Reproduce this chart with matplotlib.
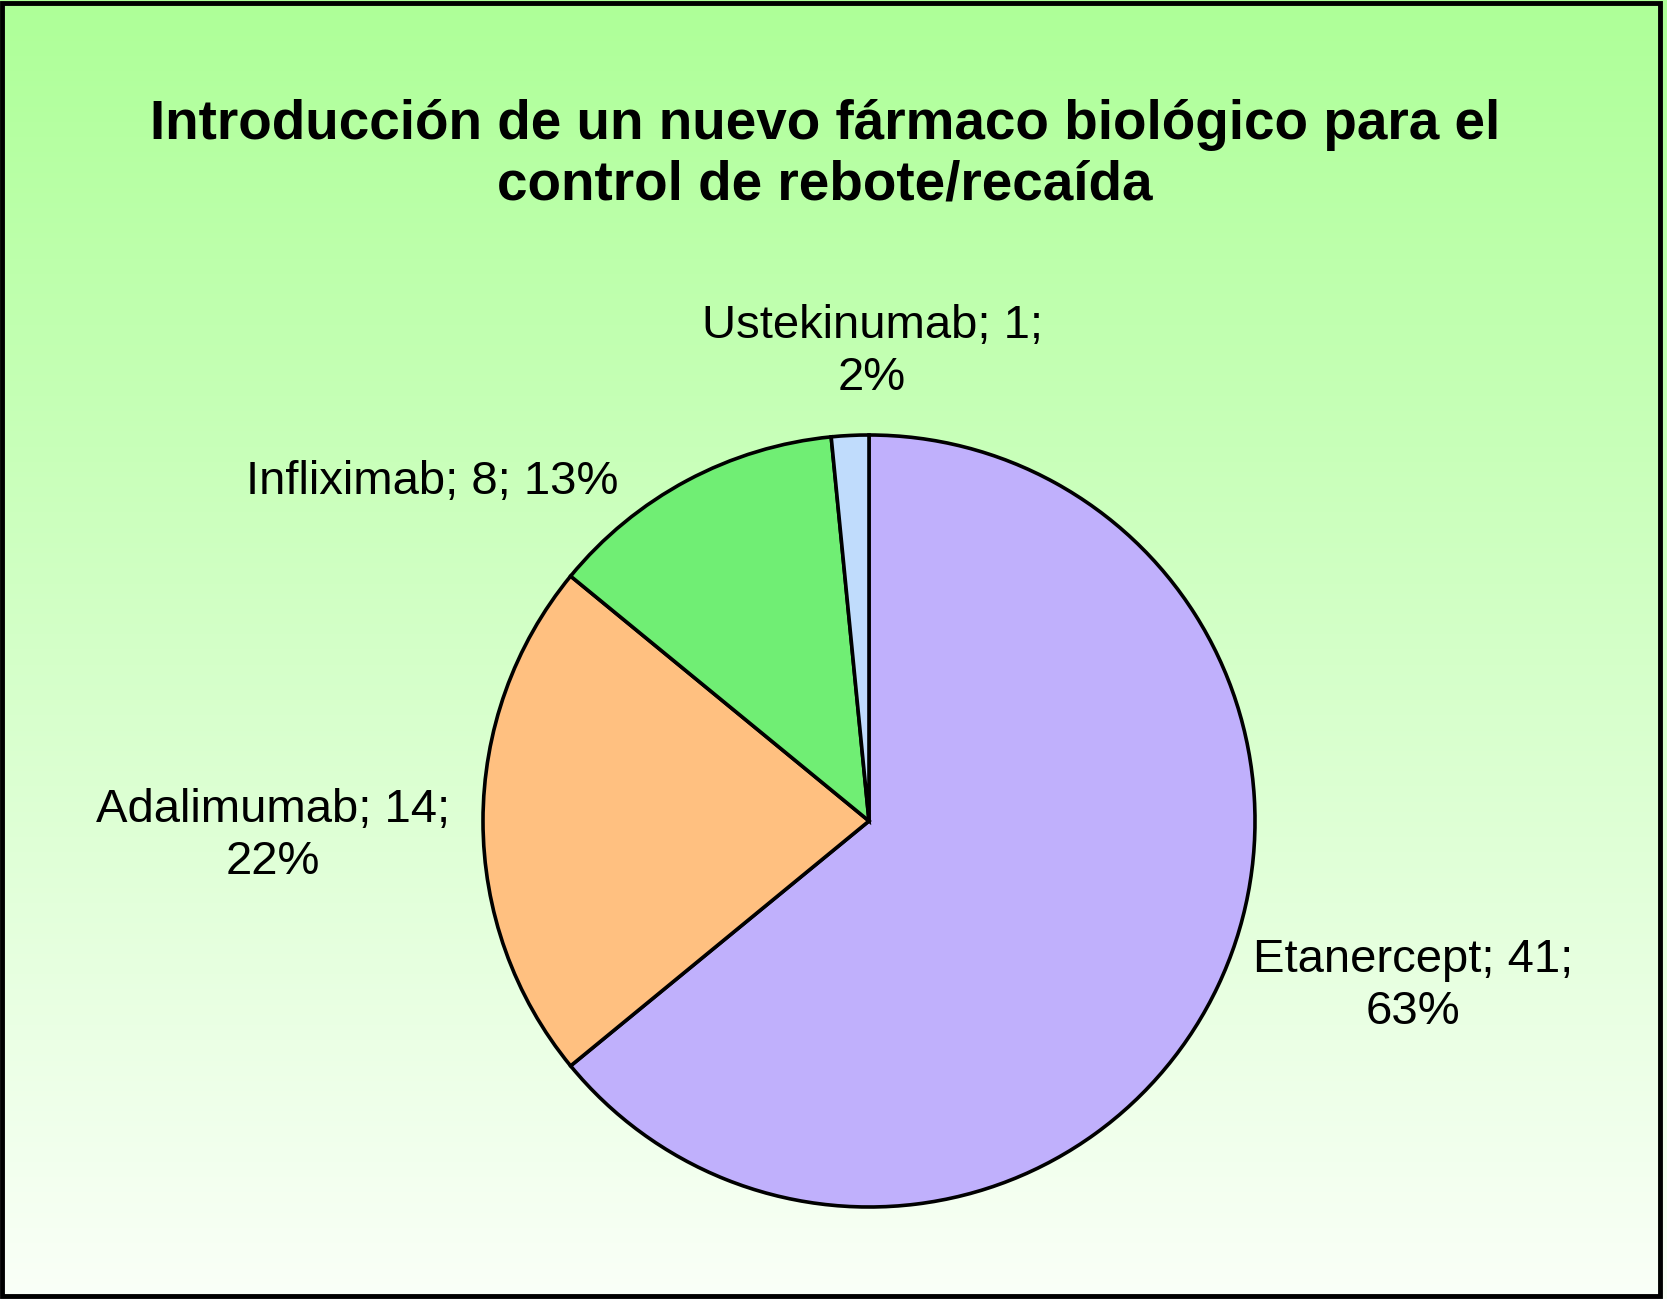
import matplotlib
matplotlib.use('Agg')
import matplotlib.pyplot as plt
import numpy as np
from matplotlib.patches import Rectangle

plt.rcParams['font.family'] = ['Liberation Sans', 'DejaVu Sans']

names = ['Etanercept', 'Adalimumab', 'Infliximab', 'Ustekinumab']
counts = [41, 14, 8, 1]
pct_labels = ['63%', '22%', '13%', '2%']
colors = ['#C0B0FC', '#FFC080', '#70EE74', '#C0DCFC']

title = 'Introducción de un nuevo fármaco biológico para el\ncontrol de rebote/recaída'

# label text, split where the picture wraps
label_texts = [
    names[0] + '; ' + str(counts[0]) + ';\n' + pct_labels[0],
    names[1] + '; ' + str(counts[1]) + ';\n' + pct_labels[1],
    names[2] + '; ' + str(counts[2]) + '; ' + pct_labels[2],
    names[3] + '; ' + str(counts[3]) + ';\n' + pct_labels[3],
]
# label centres in pixels (x from left, y from top)
label_px = [(1413, 986), (273, 836), (432, 482), (872, 352)]

W, H = 1667, 1299
fig = plt.figure(figsize=(W / 100, H / 100), dpi=100)

# background gradient
bg = fig.add_axes([0, 0, 1, 1])
top = np.array([174, 255, 152]) / 255.
bot = np.array([250, 255, 248]) / 255.
t = np.linspace(0, 1, 256)[:, None]
grad = top[None, :] * (1 - t) + bot[None, :] * t
bg.imshow(grad[:, None, :], aspect='auto', extent=[0, 1, 0, 1])
bg.set_xlim(0, 1)
bg.set_ylim(0, 1)
bg.axis('off')

ax = fig.add_axes([0, 0, 1, 1])
ax.patch.set_alpha(0)
cx, cy, r = 869, H - 821, 386
ax.pie(counts, colors=colors, startangle=90, counterclock=False,
       radius=r, center=(cx, cy),
       wedgeprops=dict(edgecolor='black', linewidth=2.6))
ax.set_xlim(0, W)
ax.set_ylim(0, H)
ax.set_aspect('auto')
ax.axis('off')

for txt, (px, py) in zip(label_texts, label_px):
    ax.text(px, H - py, txt, ha='center', va='center', fontsize=34,
            linespacing=1.25)

fig.text(825 / W, 1 - 155 / H, title, ha='center', va='center',
         fontsize=39.5, fontweight='bold', linespacing=1.22)

fig.patches.append(Rectangle((2 / W, 3 / H), (W - 9) / W, (H - 6) / H,
                             transform=fig.transFigure, fill=False,
                             edgecolor='black', linewidth=3.5))

fig.savefig('out.png', dpi=100)
